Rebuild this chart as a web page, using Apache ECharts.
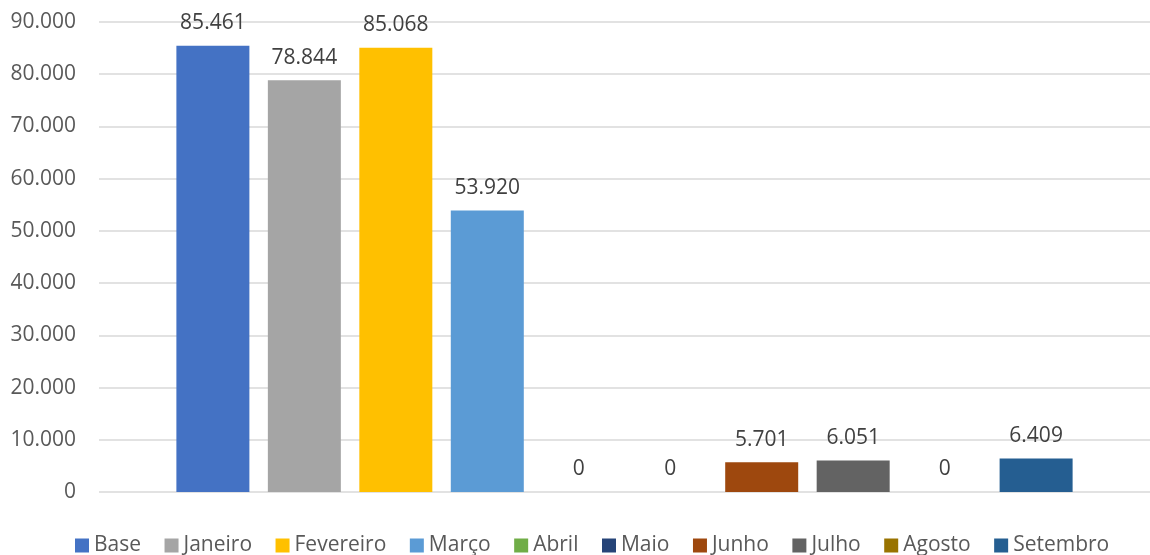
<!DOCTYPE html>
<html>
<head>
<meta charset="utf-8">
<script src="https://cdn.jsdelivr.net/npm/echarts@6/dist/echarts.min.js"></script>
<style>
  html, body { margin: 0; padding: 0; background: #ffffff; }
  #chart { width: 1150px; height: 555px; }
</style>
</head>
<body>
<div id="chart"></div>
<script>
// Monthly totals against the base value
const seriesNames = ['Base', 'Janeiro', 'Fevereiro', 'Março', 'Abril', 'Maio', 'Junho', 'Julho', 'Agosto', 'Setembro'];
const seriesValues = [85461, 78844, 85068, 53920, 0, 0, 5701, 6051, 0, 6409];
const seriesColors = ['#4472C4', '#A5A5A5', '#FFC000', '#5B9BD5', '#70AD47', '#264478', '#9E480E', '#636363', '#997300', '#255E91'];
const categories = [''];
const yMin = 0, yMax = 90000, yStep = 10000;

const FONT = '"Open Sans", "Liberation Sans", sans-serif';

// Thousands separated with a dot
function fmt(v) {
  return String(Math.round(v)).replace(/\B(?=(\d{3})+(?!\d))/g, '.');
}

const chart = echarts.init(document.getElementById('chart'), null, { renderer: 'canvas' });

const series = seriesNames.map((name, i) => ({
  name: name,
  type: 'bar',
  data: [seriesValues[i]],
  barWidth: 73,
  barGap: '25.3%',
  itemStyle: { color: seriesColors[i] },
  label: {
    show: true,
    position: 'top',
    distance: 12,
    formatter: p => fmt(p.value),
    color: '#404040',
    fontFamily: FONT,
    fontSize: 21
  },
  emphasis: { disabled: true }
}));

chart.setOption({
  animation: false,
  color: seriesColors,
  grid: { left: 99, right: 0, top: 22, bottom: 63, containLabel: false },
  legend: {
    data: seriesNames,
    left: 70,
    top: 530,
    itemWidth: 14,
    itemHeight: 14,
    itemGap: 23.5,
    icon: 'rect',
    textStyle: { color: '#595959', fontFamily: FONT, fontSize: 21 }
  },
  xAxis: {
    type: 'category',
    data: categories,
    axisLine: { show: false },
    axisTick: { show: false },
    axisLabel: { show: false }
  },
  yAxis: {
    type: 'value',
    min: yMin,
    max: yMax,
    interval: yStep,
    axisLine: { show: false },
    axisTick: { show: false },
    axisLabel: {
      formatter: v => fmt(v),
      color: '#595959',
      fontFamily: FONT,
      fontSize: 21,
      margin: 23
    },
    splitLine: { lineStyle: { color: '#d9d9d9', width: 1.5 } }
  },
  series: series
});
</script>
</body>
</html>
